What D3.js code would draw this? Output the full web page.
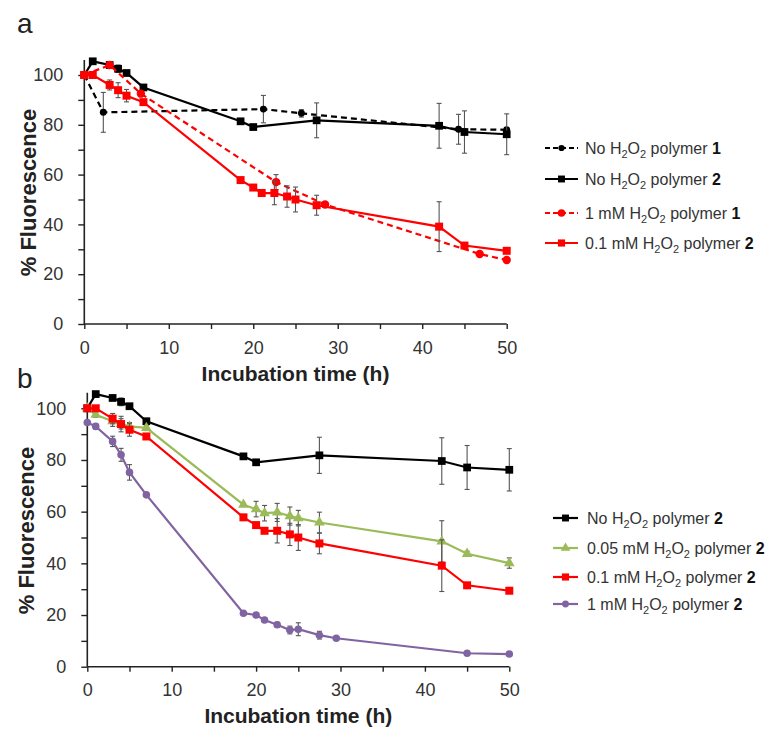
<!DOCTYPE html>
<html><head><meta charset="utf-8">
<script src="https://cdn.jsdelivr.net/npm/d3@7"></script>
<style>
body{margin:0;background:#fff}
svg{display:block}
text{font-family:"Liberation Sans",Arial,sans-serif}
</style>
</head><body>
<svg id="c" width="777" height="732"></svg>
<script>
// ---------- DATA ----------
const xTicks = [0,5,10,15,20,25,30,35,40,45,50];
const yTicks = [0,10,20,30,40,50,60,70,80,90,100];

// Polymer 1, no H2O2 (panel a, black dashed, circles)
const tNoP1 = [0,2.25,21.2,25.7,44.3,50];
const vNoP1 = [100,85,86.3,84.6,78.2,78];
const eNoP1 = [0,8,5.5,1.5,6,0];

// Polymer 1, 1 mM H2O2 (panel a, red dashed, circles)
const t1mMP1 = [0,3,6.7,22.7,28.5,46.8,50];
const v1mMP1 = [100,104,92.5,57,48,28.1,25.7];
const e1mMP1 = [0,0,0,3,0,0,0];

// Polymer 2, no H2O2 (black squares)
const tNoP2 = [0,1,3,4,5,7,18.5,20,27.5,42,45,50];
const vNoP2 = [100,105.5,104,102.5,100.8,95,81.4,79.1,81.8,79.6,77.1,76.2];
const eNoP2 = [0,0,1,1.5,1,0.5,0.5,0.5,7,9,8.5,8.2];

// Polymer 2, 0.1 mM H2O2 (red squares)
const t01mMP2 = [0,1,3,4,5,7,18.5,20,21,22.5,24,25,27.5,42,45,50];
const v01mMP2 = [100,100,96,93.9,91.7,89.1,57.8,54.8,52.6,52.6,51.2,50,47.7,39.1,31.5,29.4];
const e01mMP2 = [0,0,2,3,2.5,1,0.5,1,1,4.7,4.3,5,4,10,0.5,0.5];

// Polymer 2, 0.05 mM H2O2 (green triangles)
const t005mMP2 = [0,1,3,4,5,7,18.5,20,21,22.5,24,25,27.5,42,45,50];
const v005mMP2 = [100,97.5,95,94,93,92.4,62.7,61,59.4,59.7,58.3,57.5,55.8,48.5,43.7,40.1];
const e005mMP2 = [0,1,2,2,1.5,1,0.5,3,3,3.5,3.5,3,4,8,1,2];

// Polymer 2, 1 mM H2O2 (purple circles)
const t1mMP2 = [0,1,3,4,5,7,18.5,20,21,22.5,24,25,27.5,29.5,45,50];
const v1mMP2 = [94.5,93,87.2,82,75.2,66.5,20.7,20,18.1,16.2,14.2,14.5,12.2,11,5.2,4.9];
const e1mMP2 = [0,1,2,2.5,3,0.5,0.5,0.5,0.5,1,1.5,2.5,1.5,0.5,0.5,0.5];

// ---------- STYLE ----------
const BLACK = "#000000", RED = "#ff0000", GREEN = "#9bbb59", PURPLE = "#8064a2";

const svg = d3.select("#c");

function mkSeries(t, v, e, color, dash, sym, size, conc, num) {
  return {pts: t.map((d,i)=>({t:d, v:v[i], e:e[i]})), color, dash, sym, size, conc, num};
}

const panelA = {
  letter: "a", letterY: 33,
  x0: 84.3, x1: 506.7, y0: 324, y100: 75,
  ylabX: 36, xlabY: 381,
  series: [
    mkSeries(tNoP1, vNoP1, eNoP1, BLACK, "6,4", d3.symbolCircle, 38, "No ", "1"),
    mkSeries(tNoP2, vNoP2, eNoP2, BLACK, null, d3.symbolSquare, 60, "No ", "2"),
    mkSeries(t1mMP1, v1mMP1, e1mMP1, RED, "6,4", d3.symbolCircle, 55, "1 mM ", "1"),
    mkSeries(t01mMP2, v01mMP2, e01mMP2, RED, null, d3.symbolSquare, 64, "0.1 mM ", "2")
  ],
  legX0: 545, legX1: 578, legTX: 585, legY: [148, 179, 213, 243]
};

const panelB = {
  letter: "b", letterY: 388,
  x0: 87.3, x1: 509.3, y0: 666.7, y100: 408.3,
  ylabX: 34, xlabY: 723,
  series: [
    mkSeries(tNoP2, vNoP2, eNoP2, BLACK, null, d3.symbolSquare, 60, "No ", "2"),
    mkSeries(t005mMP2, v005mMP2, e005mMP2, GREEN, null, d3.symbolTriangle, 50, "0.05 mM ", "2"),
    mkSeries(t01mMP2, v01mMP2, e01mMP2, RED, null, d3.symbolSquare, 64, "0.1 mM ", "2"),
    mkSeries(t1mMP2, v1mMP2, e1mMP2, PURPLE, null, d3.symbolCircle, 45, "1 mM ", "2")
  ],
  legX0: 553, legX1: 578, legTX: 587, legY: [518, 548, 577, 604]
};

function label(sel, s) {
  sel.append("tspan").text(s.conc + "H");
  sel.append("tspan").attr("font-size", "11px").attr("dy", 4).text("2");
  sel.append("tspan").attr("dy", -4).text("O");
  sel.append("tspan").attr("font-size", "11px").attr("dy", 4).text("2");
  sel.append("tspan").attr("dy", -4).text(" polymer ");
  sel.append("tspan").attr("font-weight", "bold").attr("fill", "#111").text(s.num);
}

function drawPanel(p) {
  const x = d3.scaleLinear().domain([0, 50]).range([p.x0, p.x1]);
  const unit = (p.y0 - p.y100) / 100;
  const y = d3.scaleLinear().domain([0, 106]).range([p.y0, p.y0 - 106 * unit]);
  const g = svg.append("g");

  // axes
  const yAx = d3.axisLeft(y).tickValues(yTicks).tickSize(6).tickPadding(15)
    .tickFormat(d => d % 20 === 0 ? d : "");
  const ya = g.append("g").attr("transform", `translate(${p.x0},0)`).call(yAx);
  const xAx = d3.axisBottom(x).tickValues(xTicks).tickSize(5).tickPadding(12)
    .tickFormat(d => d % 10 === 0 ? d : "");
  const xa = g.append("g").attr("transform", `translate(0,${p.y0})`).call(xAx);
  [ya, xa].forEach(a => {
    a.select(".domain").attr("stroke", "#222").attr("stroke-width", 1.6);
    a.selectAll(".tick line").attr("stroke", "#222").attr("stroke-width", 1.4);
    a.selectAll(".tick text").attr("font-size", "18px").attr("fill", "#333")
      .attr("font-family", '"Liberation Sans",Arial,sans-serif');
  });
  ya.select(".domain").attr("d", `M0,${y(106)}V${p.y0}`);
  xa.select(".domain").attr("d", `M${p.x0},0H${p.x1}`);

  // axis titles
  g.append("text").attr("transform", `translate(${p.ylabX},${(y(0)+y(100))/2 - 7}) rotate(-90)`)
    .attr("text-anchor", "middle").attr("font-size", "22px").attr("font-weight", "bold")
    .attr("fill", "#222").text("% Fluorescence");
  g.append("text").attr("x", (p.x0 + p.x1) / 2).attr("y", p.xlabY)
    .attr("text-anchor", "middle").attr("font-size", "21px").attr("font-weight", "bold")
    .attr("fill", "#222").text("Incubation time (h)");
  g.append("text").attr("x", 17).attr("y", p.letterY).attr("font-size", "28px")
    .attr("fill", "#222").text(p.letter);

  const line = d3.line().x(d => x(d.t)).y(d => y(d.v));
  p.series.forEach(s => {
    // error bars
    const eb = g.append("g").attr("stroke", "#555").attr("stroke-width", 1.1);
    s.pts.filter(d => d.e > 0.8).forEach(d => {
      eb.append("line").attr("x1", x(d.t)).attr("x2", x(d.t)).attr("y1", y(d.v + d.e)).attr("y2", y(d.v - d.e));
      eb.append("line").attr("x1", x(d.t) - 2.5).attr("x2", x(d.t) + 2.5).attr("y1", y(d.v + d.e)).attr("y2", y(d.v + d.e));
      eb.append("line").attr("x1", x(d.t) - 2.5).attr("x2", x(d.t) + 2.5).attr("y1", y(d.v - d.e)).attr("y2", y(d.v - d.e));
    });
    g.append("path").datum(s.pts).attr("d", line).attr("fill", "none")
      .attr("stroke", s.color).attr("stroke-width", 2.2)
      .attr("stroke-dasharray", s.dash);
    g.selectAll(null).data(s.pts).enter().append("path")
      .attr("transform", d => `translate(${x(d.t)},${y(d.v)})`)
      .attr("d", d3.symbol().type(s.sym).size(s.size)).attr("fill", s.color);
  });

  // legend
  p.series.forEach((s, i) => {
    const ly = p.legY[i];
    g.append("line").attr("x1", p.legX0).attr("x2", p.legX1).attr("y1", ly).attr("y2", ly)
      .attr("stroke", s.color).attr("stroke-width", 2.2).attr("stroke-dasharray", s.dash ? "5,3" : null);
    g.append("path").attr("transform", `translate(${(p.legX0 + p.legX1) / 2},${ly})`)
      .attr("d", d3.symbol().type(s.sym).size(s.size * 0.8)).attr("fill", s.color);
    const t = g.append("text").attr("x", p.legTX).attr("y", ly + 5.5)
      .attr("font-size", "16px").attr("fill", "#333");
    label(t, s);
  });
}

drawPanel(panelA);
drawPanel(panelB);
</script>
</body></html>
